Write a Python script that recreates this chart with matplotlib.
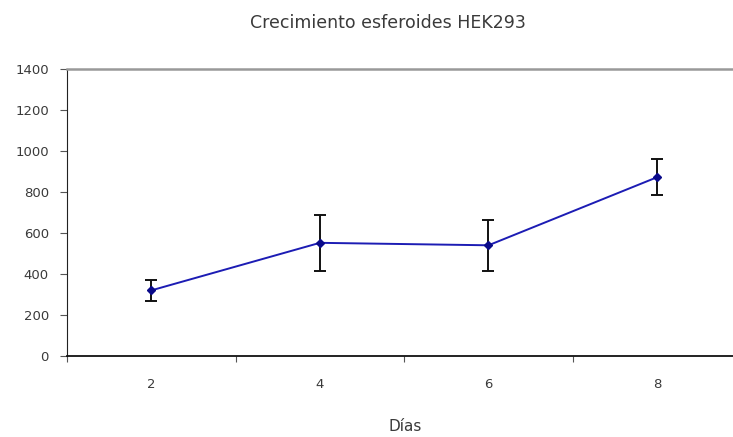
import numpy as np
import matplotlib.pyplot as plt
from matplotlib.ticker import FixedLocator

# Crecimiento de esferoides HEK293 (media y desviacion por dia)
dias = ['2', '4', '6', '8']
tamano = [320, 552, 540, 872]
error = [50, 135, 123, 88]

text_color = '#3a3a3a'
plt.rcParams['font.family'] = ['DejaVu Sans']

fig = plt.figure(figsize=(7.33, 4.37), dpi=100)
ax = fig.add_axes([0.0914, 0.1854, 0.92, 0.6567])

x = np.arange(len(dias))
ax.errorbar(x, tamano, yerr=error, color='#1c1cb4', lw=1.4,
            marker='D', markersize=4.5, markerfacecolor='#0a0a8a',
            markeredgecolor='#0a0a8a', ecolor='#111111', elinewidth=1.4,
            capsize=4, capthick=1.4, zorder=3)

ax.set_xlim(-0.5, len(dias) - 0.5)
ax.set_ylim(0, 1400)
ax.set_yticks(np.arange(0, 1401, 200))
ax.set_xticks(x)
ax.set_xticklabels(dias)
ax.xaxis.set_minor_locator(FixedLocator(np.arange(-0.5, len(dias), 1.0)))

ax.tick_params(axis='x', which='major', length=0, pad=16, labelsize=9.5, labelcolor=text_color)
ax.tick_params(axis='x', which='minor', length=4, width=0.8, color='#555555')
ax.tick_params(axis='y', length=5, width=0.8, color='#555555', pad=8, labelsize=9.5, labelcolor=text_color)

ax.spines['right'].set_visible(False)
ax.spines['top'].set_color('#999999')
ax.spines['top'].set_linewidth(1.8)
ax.spines['left'].set_color('#222222')
ax.spines['bottom'].set_color('#111111')
ax.spines['bottom'].set_linewidth(1.3)

fig.text(0.529, 0.948, 'Crecimiento esferoides HEK293', ha='center', va='center',
         fontsize=12.5, color=text_color)
fig.text(0.553, 0.023, 'Días', ha='center', va='center', fontsize=11, color=text_color)

fig.savefig('out.png', dpi=100)
